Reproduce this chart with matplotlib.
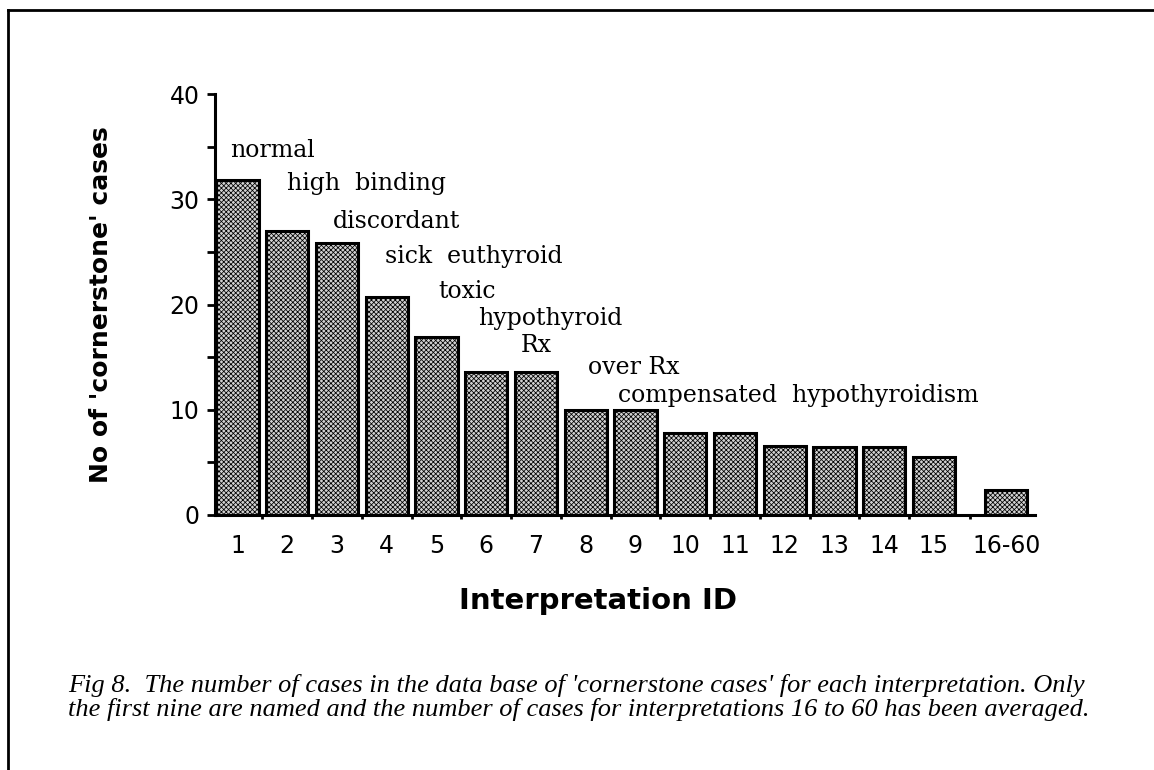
import matplotlib
matplotlib.use("Agg")
import matplotlib.pyplot as plt
import numpy as np
from matplotlib.lines import Line2D

# data
ids = ["1", "2", "3", "4", "5", "6", "7", "8", "9", "10", "11", "12", "13", "14", "15", "16-60"]
cases = [31.8, 27.0, 25.8, 20.7, 16.9, 13.6, 13.6, 10.0, 10.0, 7.8, 7.8, 6.6, 6.5, 6.5, 5.5, 2.4]
names = ["normal", "high  binding", "discordant", "sick  euthyroid", "toxic",
         "hypothyroid", "Rx", "over Rx", "compensated  hypothyroidism"]
# where each name sits (x in bar units, y = baseline)
name_x = [0.85, 1.99, 2.92, 3.96, 5.03, 5.83, 6.70, 8.05, 8.65]
name_y = [34.0, 30.9, 27.3, 23.9, 20.6, 18.05, 15.5, 13.4, 10.7]

caption = ("Fig 8.  The number of cases in the data base of 'cornerstone cases' for each interpretation. Only\n"
           "the first nine are named and the number of cases for interpretations 16 to 60 has been averaged.")

# last bar stands a bit apart from the rest
pos = np.array(list(range(1, 16)) + [16.45])

plt.rcParams["hatch.color"] = "#6e6e6e"
plt.rcParams["hatch.linewidth"] = 0.55

fig = plt.figure(figsize=(11.54, 7.70), dpi=100)
ax = fig.add_axes([215 / 1154, 1 - 515 / 770, 820 / 1154, 421 / 770])

ax.bar(pos, cases, width=0.85, color="#d2d2d2", edgecolor="black",
       linewidth=2.2, hatch="xxxxxxx")

for n, x, y in zip(names, name_x, name_y):
    ax.text(x, y, n, family="DejaVu Serif", fontsize=17, ha="left", va="baseline")

ax.set_xlim(0.55, 17.03)
ax.set_ylim(0, 40)

for s in ["top", "right"]:
    ax.spines[s].set_visible(False)
for s in ["left", "bottom"]:
    ax.spines[s].set_linewidth(2.2)

ax.set_yticks([0, 10, 20, 30, 40])
ax.set_yticks([5, 15, 25, 35], minor=True)
ax.tick_params(axis="y", which="both", direction="out", length=6, width=2, pad=5, labelsize=17)

ax.set_xticks(pos, ids)
ax.set_xticks((pos[:-1] + pos[1:]) / 2, minor=True)
ax.tick_params(axis="x", which="major", length=0, pad=14, labelsize=17)
ax.tick_params(axis="x", which="minor", direction="out", length=3, width=2)

fig.text(101 / 1154, 1 - 305 / 770, "No of 'cornerstone' cases", rotation=90,
         ha="center", va="center", fontsize=18, fontweight="bold")
fig.text(598 / 1154, 1 - 601 / 770, "Interpretation ID", ha="center", va="center",
         fontsize=21, fontweight="bold")

fig.text(68 / 1154, 1 - 716 / 770, caption, family="Liberation Serif", style="italic",
         fontsize=19, ha="left", va="baseline", linespacing=1.05)

# scanned page border (left and top edges)
fig.add_artist(Line2D([8 / 1154, 8 / 1154], [0, 1 - 10 / 770], color="black", linewidth=2))
fig.add_artist(Line2D([8 / 1154, 1], [1 - 10 / 770, 1 - 10 / 770], color="black", linewidth=2))

fig.savefig("out.png", dpi=100)
